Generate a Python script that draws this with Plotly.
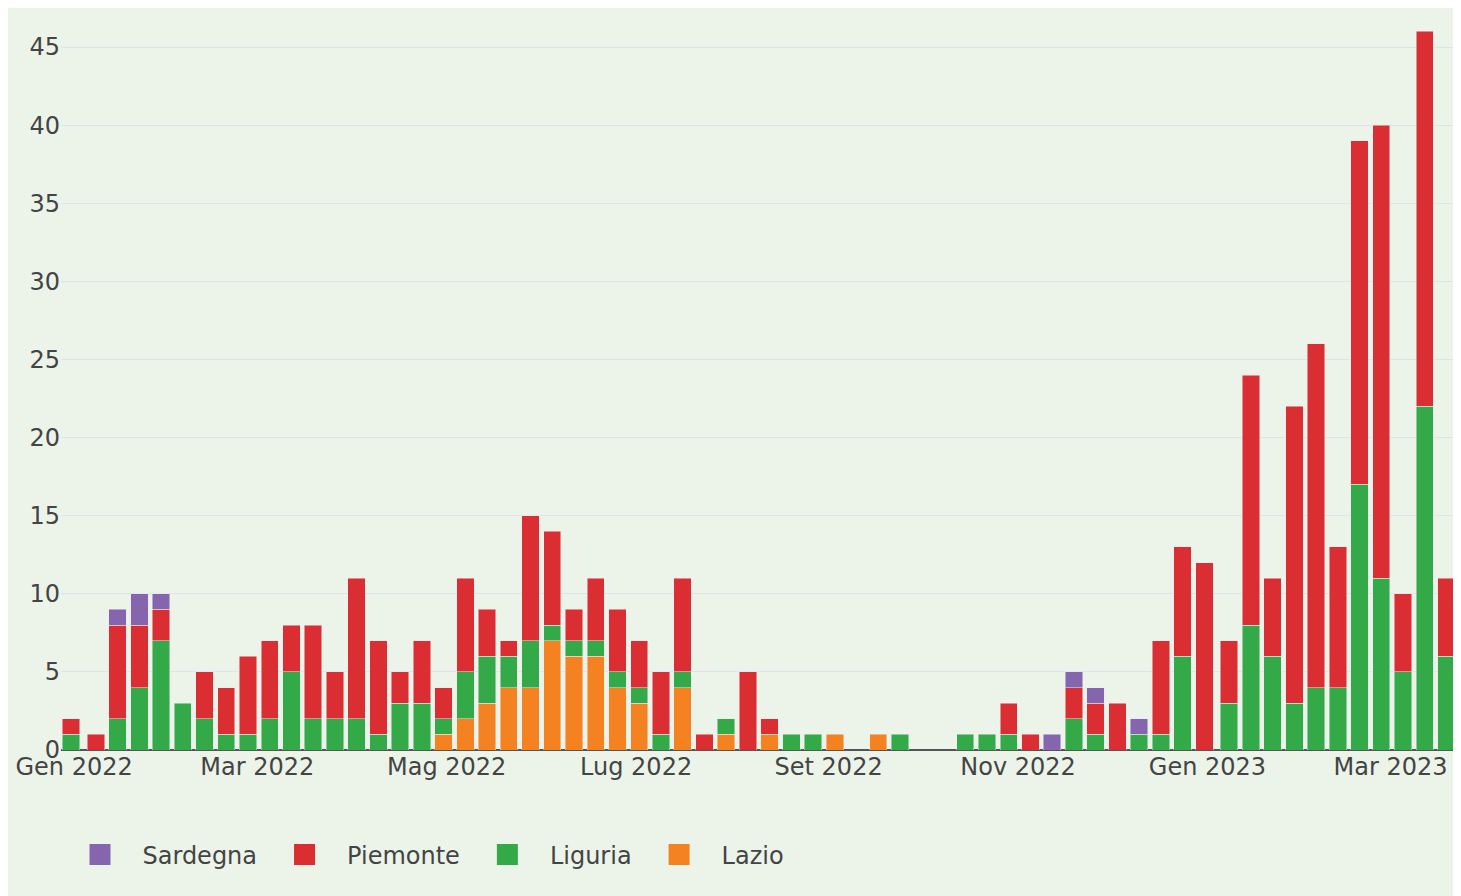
import plotly.graph_objects as go

# ---------------- data ----------------
weeks = [
    "2021-12-31",
    "2022-01-08", "2022-01-15", "2022-01-22", "2022-01-29", "2022-02-05", "2022-02-12",
    "2022-02-19", "2022-02-26", "2022-03-05", "2022-03-12", "2022-03-19", "2022-03-26",
    "2022-04-02", "2022-04-09", "2022-04-16", "2022-04-23", "2022-04-30", "2022-05-07",
    "2022-05-14", "2022-05-21", "2022-05-28", "2022-06-04", "2022-06-11", "2022-06-18",
    "2022-06-25", "2022-07-02", "2022-07-09", "2022-07-16", "2022-07-23", "2022-07-30",
    "2022-08-06", "2022-08-13", "2022-08-20", "2022-08-27", "2022-09-03", "2022-09-10",
    "2022-09-17", "2022-09-24", "2022-10-01", "2022-10-08", "2022-10-15", "2022-10-22",
    "2022-10-29", "2022-11-05", "2022-11-12", "2022-11-19", "2022-11-26", "2022-12-03",
    "2022-12-10", "2022-12-17", "2022-12-24", "2022-12-31",
    "2023-01-08", "2023-01-15", "2023-01-22", "2023-01-29", "2023-02-05", "2023-02-12",
    "2023-02-19", "2023-02-26", "2023-03-05", "2023-03-12", "2023-03-19",
]

lazio = [
    0,
    0, 0, 0, 0, 0, 0,
    0, 0, 0, 0, 0, 0,
    0, 0, 0, 0, 1, 2,
    3, 4, 4, 7, 6, 6,
    4, 3, 0, 4, 0, 1,
    0, 1, 0, 0, 1, 0,
    1, 0, 0, 0, 0, 0,
    0, 0, 0, 0, 0, 0,
    0, 0, 0, 0,
    0, 0, 0, 0, 0, 0,
    0, 0, 0, 0, 0,
]

liguria = [
    1,
    0, 2, 4, 7, 3, 2,
    1, 1, 2, 5, 2, 2,
    2, 1, 3, 3, 1, 3,
    3, 2, 3, 1, 1, 1,
    1, 1, 1, 1, 0, 1,
    0, 0, 1, 1, 0, 0,
    0, 1, 0, 0, 1, 1,
    1, 0, 0, 2, 1, 0,
    1, 1, 6, 0,
    3, 8, 6, 3, 4, 4,
    17, 11, 5, 22, 6,
]

piemonte = [
    1,
    1, 6, 4, 2, 0, 3,
    3, 5, 5, 3, 6, 3,
    9, 6, 2, 4, 2, 6,
    3, 1, 8, 6, 2, 4,
    4, 3, 4, 6, 1, 0,
    5, 1, 0, 0, 0, 0,
    0, 0, 0, 0, 0, 0,
    2, 1, 0, 2, 2, 3,
    0, 6, 7, 12,
    4, 16, 5, 19, 22, 9,
    22, 29, 5, 24, 5,
]

sardegna = [
    0,
    0, 1, 2, 1, 0, 0,
    0, 0, 0, 0, 0, 0,
    0, 0, 0, 0, 0, 0,
    0, 0, 0, 0, 0, 0,
    0, 0, 0, 0, 0, 0,
    0, 0, 0, 0, 0, 0,
    0, 0, 0, 0, 0, 0,
    0, 0, 1, 1, 1, 0,
    1, 0, 0, 0,
    0, 0, 0, 0, 0, 0,
    0, 0, 0, 0, 0,
]

tick_dates = ["2022-01-01", "2022-03-01", "2022-05-01", "2022-07-01",
              "2022-09-01", "2022-11-01", "2023-01-01", "2023-03-01"]
tick_labels = ["Gen 2022", "Mar 2022", "Mag 2022", "Lug 2022",
               "Set 2022", "Nov 2022", "Gen 2023", "Mar 2023"]

y_ticks = [0, 5, 10, 15, 20, 25, 30, 35, 40, 45]

# bottom-to-top stacking order
series = [
    ("Lazio", lazio, "#F58220"),
    ("Liguria", liguria, "#34A948"),
    ("Piemonte", piemonte, "#DB2E33"),
    ("Sardegna", sardegna, "#8566AE"),
]

# ---------------- figure ----------------
# the page puts the figure 8px from the top-left corner of the window
W, H = 1453, 888
ML, MR, MT = 53, 4, 0
PH = 742
MB = H - MT - PH
PW = W - ML - MR
BG = "#ECF4E9"
FONT = "DejaVu Sans"
TXT = "#444444"

fig = go.Figure()
for name, vals, col in series:
    fig.add_trace(go.Bar(
        x=weeks,
        y=[v if v else None for v in vals],
        name=name,
        legendgroup=name,
        showlegend=False,
        marker=dict(color=col, line=dict(color="#E5ECF6", width=0.5)),
    ))
    # legend-only entry with a larger square swatch
    fig.add_trace(go.Scatter(
        x=[None], y=[None],
        mode="markers",
        name=name,
        legendgroup=name,
        showlegend=True,
        hoverinfo="skip",
        marker=dict(symbol="square", size=16, color=col,
                    line=dict(color=col, width=5)),
    ))

fig.update_layout(
    width=W, height=H,
    margin=dict(l=ML, r=MR, t=MT, b=MB, pad=0),
    paper_bgcolor=BG,
    plot_bgcolor=BG,
    barmode="stack",
    bargap=0.2,
    font=dict(family=FONT, size=24, color=TXT),
    showlegend=True,
    legend=dict(
        orientation="h",
        traceorder="reversed",
        x=-3.5 / PW, xanchor="left",
        y=-0.1109, yanchor="top",
        itemwidth=75,
        font=dict(family=FONT, size=24, color=TXT),
        bgcolor="rgba(0,0,0,0)",
    ),
    xaxis=dict(
        type="date",
        range=["2021-12-27 18:43", "2023-03-22 09:07"],
        tickmode="array",
        tickvals=tick_dates,
        ticktext=tick_labels,
        showgrid=False,
        zeroline=False,
        showline=False,
        ticks="",
        tickfont=dict(family=FONT, size=24, color=TXT),
    ),
    yaxis=dict(
        range=[0, 47.5],
        tickmode="array",
        tickvals=y_ticks,
        showgrid=True,
        gridcolor="#E3E2E8",
        gridwidth=1,
        zeroline=True,
        zerolinecolor="#555555",
        zerolinewidth=2,
        showline=False,
        ticks="",
        tickfont=dict(family=FONT, size=24, color=TXT),
    ),
)

fig.write_html("out.html")
